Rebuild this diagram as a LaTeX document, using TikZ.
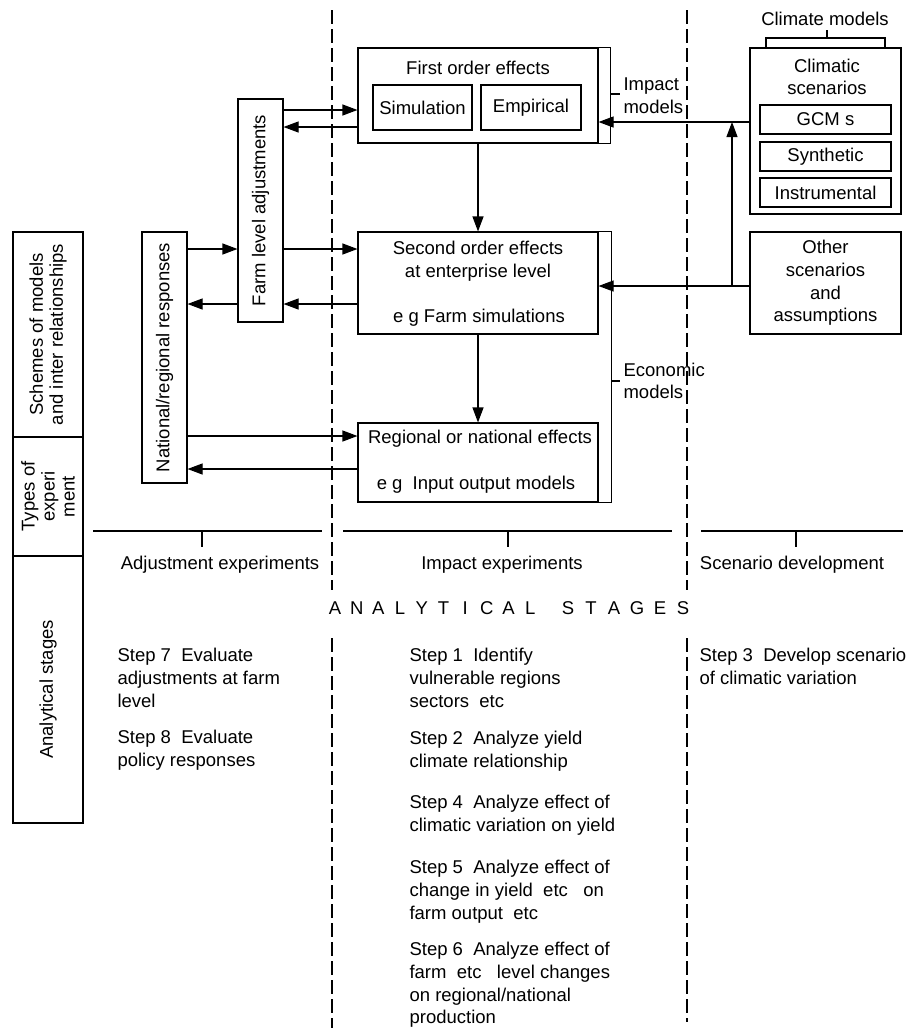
\documentclass[tikz,border=0pt]{standalone}
\usepackage{fontspec}
\setmainfont{Liberation Sans}
\usetikzlibrary{arrows.meta,calc}
\newcommand{\fs}{\fontsize{18.5}{22.6}\selectfont}
\newcommand{\fsv}{\fontsize{18.5}{20}\selectfont}
\tikzset{
  box/.style={draw,line width=1.1pt,inner sep=0pt},
  arr/.style={line width=1.1pt,-{Triangle[length=15pt,width=11pt]}},
  divide/.style={line width=1.1pt,dash pattern=on 14pt off 5pt},
  txt/.style={inner sep=0pt,align=center},
  steptxt/.style={inner sep=0pt,align=left,anchor=north west},
}

\begin{document}
\begin{tikzpicture}[x=1pt,y=-1pt,font=\fs,line width=1.1pt]
  \useasboundingbox (0,0) rectangle (912,1028);

  % stage dividers
  \draw[divide] (332,10) -- (332,590);
  \draw[divide] (332,638) -- (332,1028);
  \draw[divide] (687,10) -- (687,590);
  \draw[divide] (687,638) -- (687,1022);

  % left column
  \node[box,minimum width=70pt,minimum height=205pt] (schemes) at (48,334.5) {};
  \node[box,minimum width=70pt,minimum height=119pt] (types) at (48,496.5) {};
  \node[box,minimum width=70pt,minimum height=267pt] (analytic) at (48,689.5) {};
  \node[txt,rotate=90,font=\fsv] (schemestxt) at (schemes.center) {Schemes of models\\and inter relationships};
  \node[txt,rotate=90,font=\fsv] (typestxt) at (types.center) {Types of\\experi\\ment};
  \node[txt,rotate=90] (analytictxt) at (analytic.center) {Analytical stages};

  % impact models
  \node[box,minimum width=240pt,minimum height=95pt] (first) at (478,95.5) {};
  \node[txt] (firsttxt) at (478,68) {First order effects};
  \node[box,minimum width=99pt,minimum height=45pt] (sim) at (422.5,107.5) {Simulation};
  \node[box,minimum width=100pt,minimum height=45pt] (emp) at (531,107.5) {Empirical};

  % economic models
  \node[box,minimum width=240pt,minimum height=102pt] (second) at (478,283) {};
  \node[txt] (secondtxt) at (478,261) {Second order effects\\at enterprise level};
  \node[txt] (secondeg) at (479,318) {e g Farm simulations};
  \node[box,minimum width=240pt,minimum height=79pt] (regional) at (478,462.5) {};
  \node[txt] (regionaltxt) at (480,439) {Regional or national effects};
  \node[txt] (regionaleg) at (476,485) {e g~ Input output models};

  % adjustments
  \node[box,minimum width=45pt,minimum height=223pt] (farm) at (260.5,210.5) {};
  \node[txt,rotate=90] (farmtxt) at (farm.center) {Farm level adjustments};
  \node[box,minimum width=45pt,minimum height=251pt] (nat) at (164.5,357.5) {};
  \node[txt,rotate=90] (nattxt) at (nat.center) {National/regional responses};

  % scenarios
  \node[box,minimum width=151pt,minimum height=166pt] (clim) at (825.5,131) {};
  \node[txt] (climtxt) at (827,77) {Climatic\\scenarios};
  \node[box,minimum width=131pt,minimum height=29pt] (gcm) at (825.5,119.5) {GCM s};
  \node[box,minimum width=131pt,minimum height=29pt] (synth) at (825.5,156.5) {Synthetic};
  \node[box,minimum width=131pt,minimum height=29pt] (instr) at (825.5,192.5) {Instrumental};
  \node[box,minimum width=151pt,minimum height=102pt,txt] (other) at (825.5,283) {Other\\scenarios\\and\\assumptions};

  \node[txt] (cmodels) at (825,19) {Climate models};
  \draw (766,48) -- (766,38) -- (885,38) -- (885,48);
  \draw (827,38) -- (827,30);

  % brackets
  \draw (first.north east) -- ++(12,0) -- ([xshift=12pt]first.south east) -- (first.south east);
  \draw (610,94) -- (620,94);
  \node[txt,align=left,anchor=west] (impact) at (623,96) {Impact\\models};
  \draw (second.north east) -- ++(13,0) |- (regional.south east);
  \draw (611,381) -- (620,381);
  \node[txt,align=left,anchor=west] (economic) at (623,381) {Economic\\models};

  % connectors
  \draw[arr] (farm.east |- 0,110) -- (first.west |- 0,110);
  \draw[arr] (first.west |- 0,127) -- (farm.east |- 0,127);
  \draw[arr] (nat.east |- 0,249) -- (farm.west |- 0,249);
  \draw[arr] (farm.west |- 0,304) -- (nat.east |- 0,304);
  \draw[arr] (farm.east |- 0,249) -- (second.west |- 0,249);
  \draw[arr] (second.west |- 0,304) -- (farm.east |- 0,304);
  \draw[arr] (nat.east |- 0,436) -- (regional.west |- 0,436);
  \draw[arr] (regional.west |- 0,469) -- (nat.east |- 0,469);
  \draw[arr] (first.south) -- (second.north);
  \draw[arr] (second.south) -- (regional.north);
  \draw[arr] (clim.west |- 0,122) -- (first.east |- 0,122);
  \coordinate (jn) at (732,286);
  \draw[arr] (other.west |- jn) -- (second.east |- jn);
  \draw[arr] (jn) -- (jn |- 0,122);

  % types of experiment
  \draw (93,531) -- (322,531);
  \draw (343,531) -- (672,531);
  \draw (701,531) -- (903,531);
  \draw (202,531) -- (202,547);
  \draw (508,531) -- (508,547);
  \draw (796,531) -- (796,547);
  \node[txt] (adjexp) at (220,565) {Adjustment experiments};
  \node[txt] (impexp) at (502,565) {Impact experiments};
  \node[txt] (scenexp) at (792,565) {Scenario development};

  \foreach \ch [count=\i] in {A,N,A,L,Y,T,I,C,A,L}
    \node[txt] (stA\i) at (335+21.7*\i-21.7,608) {\ch};
  \foreach \ch [count=\i] in {S,T,A,G,E,S}
    \node[txt] (stB\i) at (568+23*\i-23,608) {\ch};

  % analytical stages
  \node[steptxt] (step7) at (117,648) {Step 7~ Evaluate\\adjustments at farm\\level};
  \node[steptxt] (step8) at (117,730) {Step 8~ Evaluate\\policy responses};
  \node[steptxt] (step1) at (409,648) {Step 1~ Identify\\vulnerable regions\\sectors~ etc};
  \node[steptxt] (step2) at (409,731) {Step 2~ Analyze yield\\climate relationship};
  \node[steptxt] (step4) at (409,795) {Step 4~ Analyze effect of\\climatic variation on yield};
  \node[steptxt] (step5) at (409,860) {Step 5~ Analyze effect of\\change in yield~ etc~~ on\\farm output~ etc};
  \node[steptxt] (step6) at (409,942) {Step 6~ Analyze effect of\\farm~ etc~~ level changes\\on regional/national\\production};
  \node[steptxt] (step3) at (699,648) {Step 3~ Develop scenario\\of climatic variation};
\end{tikzpicture}
\end{document}
